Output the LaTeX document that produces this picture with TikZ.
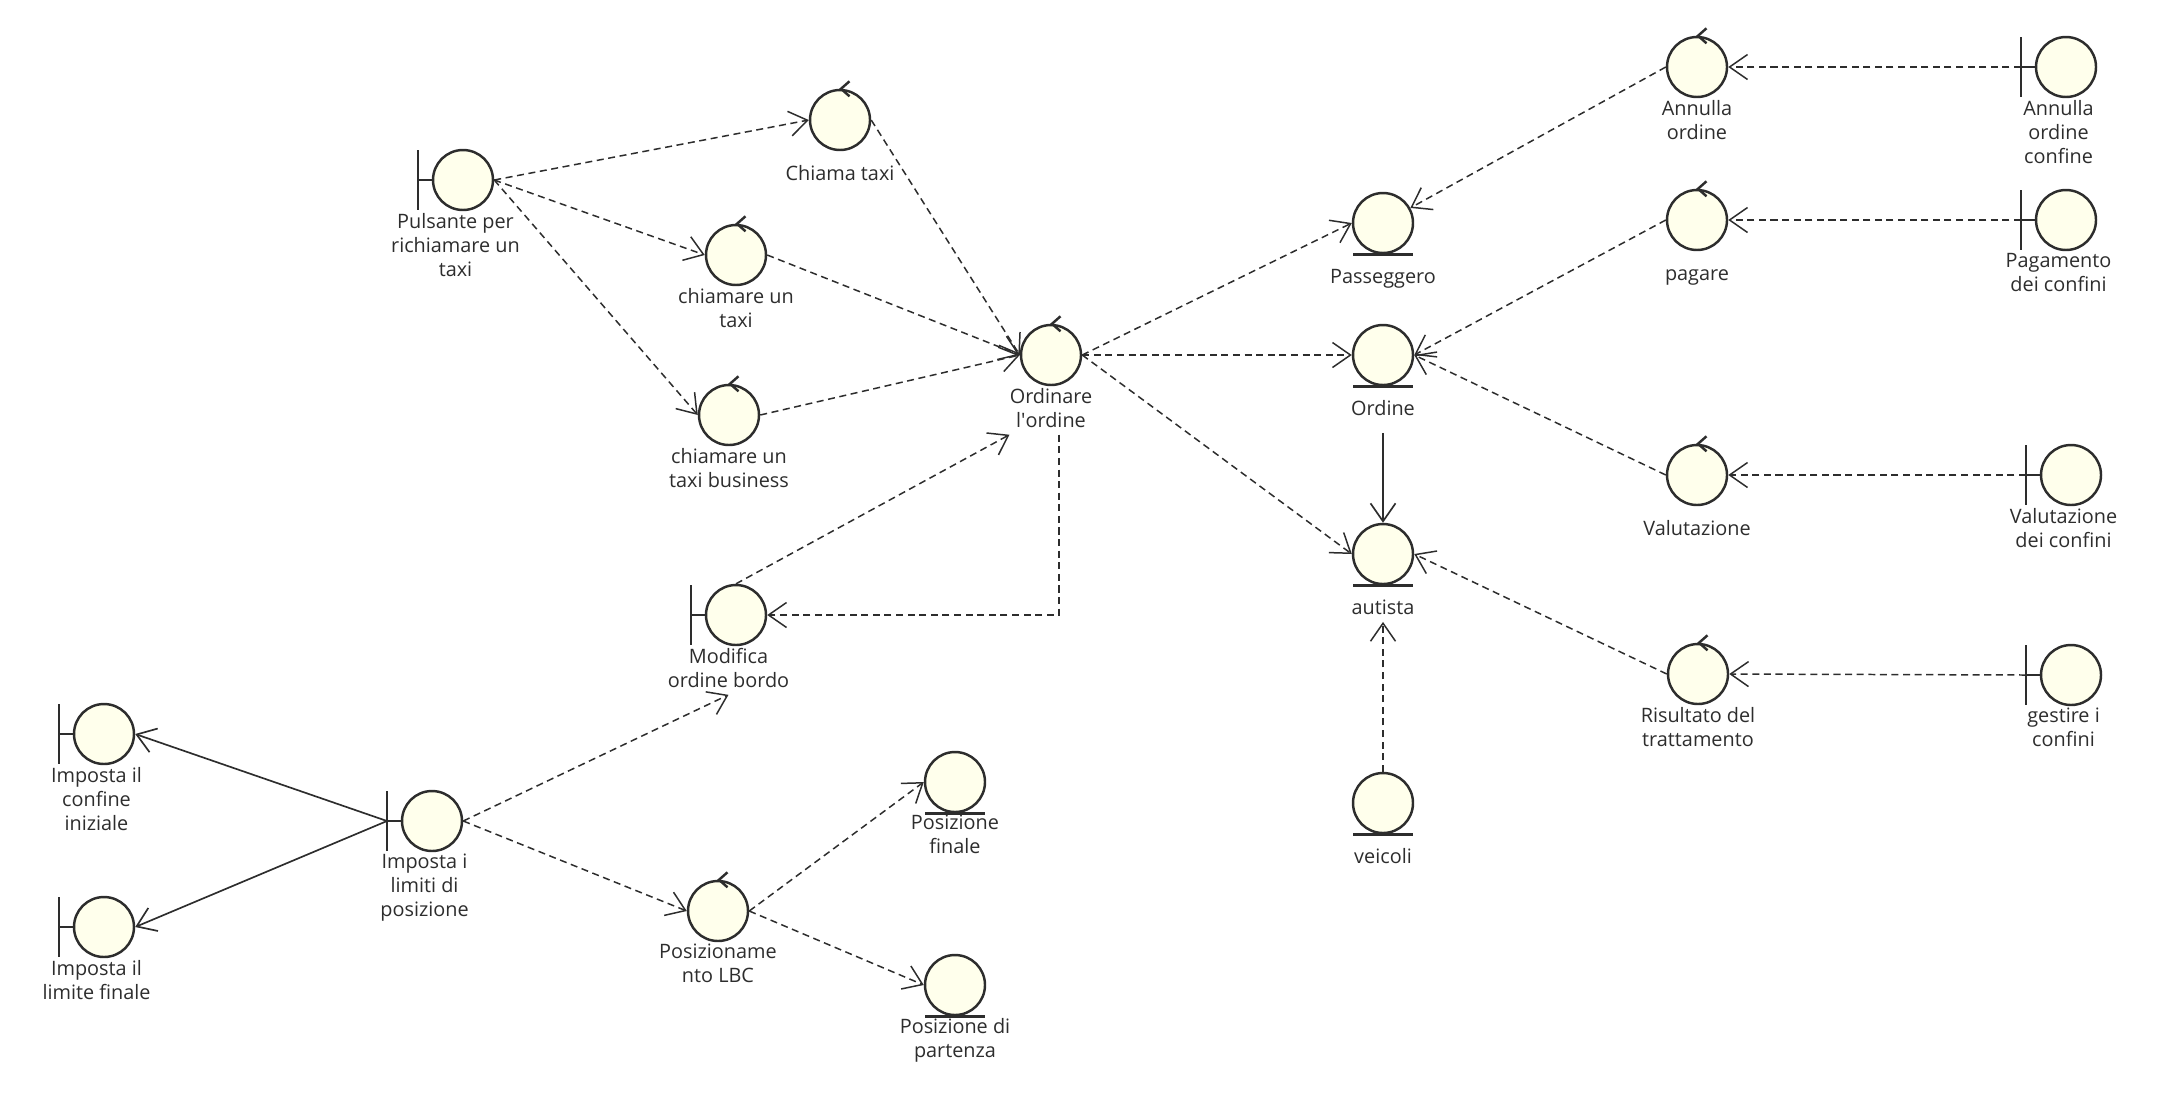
\documentclass[tikz,border=0pt]{standalone}
\usepackage{fontspec}
\setmainfont{Open Sans}
\usepackage{xcolor}
\usepackage{tikz}
\usetikzlibrary{arrows.meta,positioning}
\pgfdeclarelayer{marks}
\pgfsetlayers{main,marks}
\definecolor{ink}{RGB}{45,45,45}
\definecolor{cream}{RGB}{255,255,236}
\newcommand\objfont{\fontsize{11.3}{13.66}\selectfont}
\tikzset{obj/.style={circle,draw=ink,fill=cream,line width=1.4pt,minimum size=1.2cm,inner sep=0pt},
  mk/.style={draw=ink,line width=1.4pt},
  ctrl/.style={obj,append after command={\pgfextra{\begin{pgfonlayer}{marks}
    \draw[mk] ([xshift=0.19cm,yshift=0.15cm]\tikzlastnode.north) -- ([xshift=0.02cm]\tikzlastnode.north) -- ++(0.17cm,-0.15cm);
    \end{pgfonlayer}}}},
  bnd/.style={obj,append after command={\pgfextra{\begin{pgfonlayer}{marks}
    \draw[mk] ([xshift=-0.9cm,yshift=0.6cm]\tikzlastnode.center) -- ++(0,-1.2cm);
    \draw[mk] ([xshift=-0.9cm]\tikzlastnode.center) -- (\tikzlastnode.west);
    \end{pgfonlayer}}}},
  ent/.style={obj,append after command={\pgfextra{\begin{pgfonlayer}{marks}
    \draw[mk,line width=1.7pt] ([xshift=-0.6cm]\tikzlastnode.south) -- ([xshift=0.6cm]\tikzlastnode.south);
    \end{pgfonlayer}}}},
  lb/.style={font=\objfont,text=ink,align=center,inner sep=0pt,execute at begin node=\strut,label distance=0.03cm},
  lb1/.style={lb,label distance=0.24cm},
  lbb/.style={lb,xshift=-0.15cm},
  dep/.style={draw=ink,line width=0.85pt,dash pattern=on 4pt off 2.6pt,-{Straight Barb[length=0.36cm,width=0.5cm]}},
  sol/.style={draw=ink,line width=0.95pt,-{Straight Barb[length=0.36cm,width=0.5cm]}}}

\begin{document}
\begin{tikzpicture}[x=0.02cm,y=-0.02cm]
    \useasboundingbox (0,0) rectangle (2169,1100);

    % taxi request side
    \node[bnd,label={[lbb,name=pulL]below:Pulsante per\\richiamare un\\taxi}] (pul) at (463,180) {};
    \node[ctrl,label={[lb1,name=chiL]below:Chiama taxi}] (chi) at (840,120) {};
    \node[ctrl,label={[lb,name=chtL]below:chiamare un\\taxi}] (cht) at (736,255) {};
    \node[ctrl,label={[lb,name=chbL]below:chiamare un\\taxi business}] (chb) at (729,415) {};
    \node[ctrl,label={[lb,name=ordL]below:Ordinare\\l\textquotesingle ordine}] (ord) at (1051,355) {};
    \node[bnd,label={[lbb,name=modL]below:Modifica\\ordine bordo}] (mod) at (736,615) {};

    % entities
    \node[ent,label={[lb1,name=pasL]below:Passeggero}] (pas) at (1383,223) {};
    \node[ent,label={[lb1,name=odnL]below:Ordine}] (odn) at (1383,355) {};
    \node[ent,label={[lb1,name=autL]below:autista}] (aut) at (1383,554) {};
    \node[ent,label={[lb1,name=veiL]below:veicoli}] (vei) at (1383,803) {};

    % right column
    \node[ctrl,label={[lb,name=annL]below:Annulla\\ordine}] (ann) at (1697,67) {};
    \node[ctrl,label={[lb1,name=pagL]below:pagare}] (pag) at (1697,220) {};
    \node[ctrl,label={[lb1,name=valL]below:Valutazione}] (val) at (1697,475) {};
    \node[ctrl,label={[lb,name=risL]below:Risultato del\\trattamento}] (ris) at (1698,674) {};
    \node[bnd,label={[lbb,name=acfL]below:Annulla\\ordine\\confine}] (acf) at (2066,67) {};
    \node[bnd,label={[lbb,name=pcfL]below:Pagamento\\dei confini}] (pcf) at (2066,220) {};
    \node[bnd,label={[lbb,name=vcfL]below:Valutazione\\dei confini}] (vcf) at (2071,475) {};
    \node[bnd,label={[lbb,name=gcfL]below:gestire i\\confini}] (gcf) at (2071,675) {};

    % position limits
    \node[bnd,label={[lbb,name=iniL]below:Imposta il\\confine\\iniziale}] (ini) at (104,734) {};
    \node[bnd,label={[lbb,name=finL]below:Imposta il\\limite finale}] (fin) at (104,927) {};
    \node[bnd,label={[lbb,name=limL]below:Imposta i\\limiti di\\posizione}] (lim) at (432,821) {};
    \node[ctrl,label={[lb,name=lbcL]below:Posizioname\\nto LBC}] (lbc) at (718,911) {};
    \node[ent,label={[lb,name=pfiL]below:Posizione\\finale}] (pfi) at (955,782) {};
    \node[ent,label={[lb,name=ppaL]below:Posizione di\\partenza}] (ppa) at (955,985) {};

    \draw [dep] (pul.east) -- (chi.west);
    \draw [dep] (pul.east) -- (cht.west);
    \draw [dep] (pul.east) -- (chb.west);
    \draw [dep] (chi.east) -- (ord.west);
    \draw [dep] (cht.east) -- (ord.west);
    \draw [dep] (chb.east) -- (ord.west);
    \draw [dep] (ord.east) -- (pas.west);
    \draw [dep] (ord.east) -- (odn.west);
    \draw [dep] (ord.east) -- (aut.west);
    \draw [dep] ([xshift=0.16cm]ordL.south) |- (mod.east);
    \draw [dep] (mod.north) -- (ordL.south west);
    \draw [sol] ([yshift=-0.2cm]odnL.south) -- (aut.north);
    \draw [dep] (vei.north) -- (autL.south);
    \draw [dep] (ann.west) -- (pas);
    \draw [dep] (pag.west) -- (odn.east);
    \draw [dep] (val.west) -- (odn.east);
    \draw [dep] (ris.west) -- (aut.east);
    \draw [dep] ([xshift=-0.9cm]acf.center) -- (ann.east);
    \draw [dep] ([xshift=-0.9cm]pcf.center) -- (pag.east);
    \draw [dep] ([xshift=-0.9cm]vcf.center) -- (val.east);
    \draw [dep] ([xshift=-0.9cm]gcf.center) -- (ris.east);
    \draw [sol] ([xshift=-0.9cm]lim.center) -- (ini.east);
    \draw [sol] ([xshift=-0.9cm]lim.center) -- (fin.east);
    \draw [dep] (lim.east) -- (modL.south);
    \draw [dep] (lim.east) -- (lbc.west);
    \draw [dep] (lbc.east) -- (pfi.west);
    \draw [dep] (lbc.east) -- (ppa.west);
\end{tikzpicture}
\end{document}
